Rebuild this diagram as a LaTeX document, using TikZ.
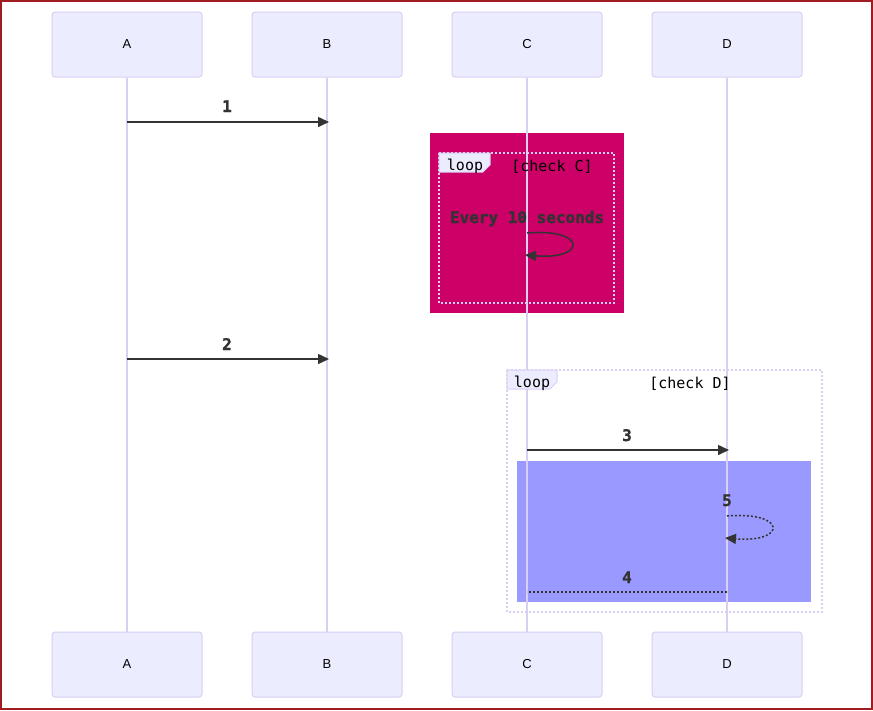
\documentclass[tikz,border=0pt]{standalone}
\usepackage{fontspec}
\setmainfont{Liberation Sans}
\newfontfamily\monof{DejaVu Sans Mono}
\newfontfamily\monobf[FakeBold=1.5]{DejaVu Sans Mono Bold}
\usetikzlibrary{arrows.meta}
\definecolor{actfill}{RGB}{236,236,255}
\definecolor{actbord}{RGB}{218,206,243}
\definecolor{ink}{RGB}{51,51,51}
\definecolor{pinkbg}{RGB}{204,0,102}
\definecolor{bluebg}{RGB}{153,153,255}
\definecolor{framered}{RGB}{160,28,32}
\tikzset{
  actor/.style={draw=actbord, fill=actfill, line width=1pt, rounded corners=3pt,
    minimum width=150pt, minimum height=65pt, inner sep=0pt, font=\fontsize{13}{15}\selectfont, text=black},
  lifeline/.style={draw=actbord, line width=1.5pt},
  tip/.style={-{Triangle[length=11pt,width=10pt]}},
  msg/.style={draw=ink, line width=1.5pt, tip},
  dmsg/.style={draw=ink, line width=1.5pt, dash pattern=on 2pt off 2pt},
  msglabel/.style={font=\monobf\fontsize{16}{18}\selectfont, text=ink, inner sep=0pt},
  looptext/.style={font=\monof\fontsize{15}{18}\selectfont, text=black, inner sep=0pt},
  loopframe/.style={draw=actbord, line width=1.5pt, dash pattern=on 2pt off 2pt},
  looplabel/.style={draw=actbord, fill=actfill, line width=1pt},
}
\begin{document}
\begin{tikzpicture}[x=1pt,y=-1pt]
\useasboundingbox (0,0) rectangle (873,710);
\fill[white] (0,0) rectangle (873,710);
% highlight rects
\fill[pinkbg] (430,133) rectangle (624,313);
\fill[bluebg] (517,461) rectangle (811,602);
% actors
\foreach \n/\x in {A/127,B/327,C/527,D/727}{
  \node[actor] (\n top) at (\x,44.5) {\n};
  \node[actor] (\n bot) at (\x,664.5) {\n};
  \draw[lifeline] (\n top.south) -- (\n bot.north);
}
% coordinates on lifelines
\coordinate (a1) at (127,122); \coordinate (b1) at (329,122);
\coordinate (a2) at (127,359); \coordinate (b2) at (329,359);
\coordinate (c3) at (527,450); \coordinate (d3) at (729,450);
\coordinate (c4) at (527,592); \coordinate (d4) at (727,592);
\coordinate (cs1) at (527,233); \coordinate (cs2) at (525,255);
\coordinate (ds1) at (727,516); \coordinate (ds2) at (725,538);
% loop C
\draw[loopframe] (439,153) rectangle (614,303);
\draw[looplabel] (439,153) -- (490,153) -- (490,165) -- (483,172) -- (439,172) -- cycle;
\node[looptext, anchor=base] (loopc) at (465,170) {loop};
\node[looptext, anchor=base] (condc) at (552,171) {[check C]};
% loop D
\draw[loopframe] (507,370) rectangle (822,612);
\draw[looplabel] (507,370) -- (557,370) -- (557,382) -- (550,389) -- (507,389) -- cycle;
\node[looptext, anchor=base] (loopd) at (532,387) {loop};
\node[looptext, anchor=base] (condd) at (690,388) {[check D]};
% messages
\draw[msg] (a1) -- (b1);
\node[msglabel, anchor=base] (l1) at (227,112) {1};
\draw[msg] (a2) -- (b2);
\node[msglabel, anchor=base] (l2) at (227,350) {2};
\node[msglabel, anchor=base] (le) at (527,223) {Every 10 seconds};
\draw[msg] (cs1) .. controls (587,228) and (587,260) .. (cs2);
\draw[msg] (c3) -- (d3);
\node[msglabel, anchor=base] (l3) at (627,441) {3};
\node[msglabel, anchor=base] (l5) at (727,506) {5};
\draw[dmsg, tip] (ds1) .. controls (787,511) and (787,543) .. (ds2);
\node[msglabel, anchor=base] (l4) at (627,583) {4};
\draw[dmsg] (d4) -- (c4);
% outer frame
\draw[framered, line width=2pt] (1,1) rectangle (872,709);
\end{tikzpicture}
\end{document}
